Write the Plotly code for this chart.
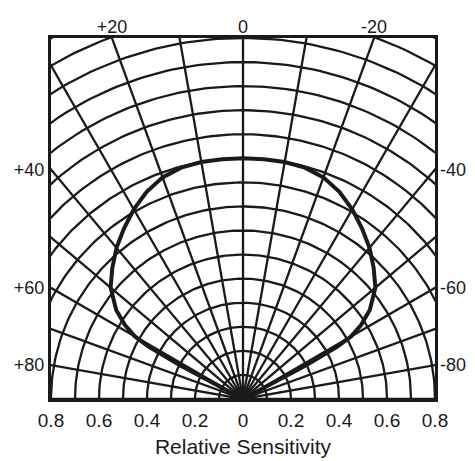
import numpy as np
import plotly.graph_objects as go

# ---- data ----
# angular displacement (deg) and relative sensitivity, symmetric pattern
sens_angles = [0, 5, 10, 15, 20, 25, 30, 35, 40, 45, 50, 55, 58, 60, 61, 62, 63]
sens_values = [1.0, 1.0, 1.0, 0.995, 0.98, 0.95, 0.91, 0.865, 0.82, 0.77, 0.72,
               0.645, 0.58, 0.52, 0.45, 0.30, 0.0]

grid_radii = [round(0.1 * k, 1) for k in range(1, 18)]
grid_angles = list(range(-90, 91, 10))
hub_radius = 0.05

x_tick_vals = [-0.8, -0.6, -0.4, -0.2, 0, 0.2, 0.4, 0.6, 0.8]
x_tick_text = ["0.8", "0.6", "0.4", "0.2", "0", "0.2", "0.4", "0.6", "0.8"]
top_angles = [20, 0, -20]
top_text = ["+20", "0", "-20"]
left_angles = [40, 60, 80]
left_text = ["+40", "+60", "+80"]
right_text = ["-40", "-60", "-80"]

X_RANGE = [-0.8, 0.8]
Y_RANGE = [0, 1.5]

# ---- build figure ----
INK = "#1a1a1a"
FONT = "Liberation Sans, Arial, sans-serif"

# full curve: positive angles on the left
ang_full = [-a for a in sens_angles[::-1]] + sens_angles[1:]
val_full = sens_values[::-1] + sens_values[1:]
th = np.radians(ang_full)
cx = -np.array(val_full) * np.sin(th)
cy = np.array(val_full) * np.cos(th)

# circles
circ_x, circ_y = [], []
t = np.radians(np.linspace(0, 180, 181))
for r in grid_radii:
    circ_x += list(r * np.cos(t)) + [None]
    circ_y += list(r * np.sin(t)) + [None]

# radial lines
rad_x, rad_y = [], []
for a in grid_angles:
    ar = np.radians(a)
    rad_x += [0, -2.0 * np.sin(ar), None]
    rad_y += [0, 2.0 * np.cos(ar), None]

fig = go.Figure()
fig.add_trace(go.Scatter(x=circ_x, y=circ_y, mode="lines",
                         line=dict(color=INK, width=2.3), hoverinfo="skip", showlegend=False))
fig.add_trace(go.Scatter(x=rad_x, y=rad_y, mode="lines",
                         line=dict(color=INK, width=2.3), hoverinfo="skip", showlegend=False))
fig.add_trace(go.Scatter(x=hub_radius * np.cos(t), y=hub_radius * np.sin(t), mode="lines",
                         fill="toself", fillcolor=INK, line=dict(color=INK, width=1),
                         hoverinfo="skip", showlegend=False))
fig.add_trace(go.Scatter(x=cx, y=cy, mode="lines",
                         line=dict(color=INK, width=4), showlegend=False))
# invisible trace so the top/right angle axes are drawn
fig.add_trace(go.Scatter(x=[0], y=[0], xaxis="x2", yaxis="y2", mode="markers",
                         marker=dict(opacity=0), hoverinfo="skip", showlegend=False))

top_vals = [-Y_RANGE[1] * np.tan(np.radians(a)) for a in top_angles]
left_vals = [X_RANGE[1] / np.tan(np.radians(a)) for a in left_angles]

common = dict(showgrid=False, zeroline=False, ticks="", fixedrange=True, automargin=False)
fig.update_layout(
    width=475, height=461,
    margin=dict(l=51, r=40, t=38, b=62),
    paper_bgcolor="white", plot_bgcolor="white",
    font=dict(family=FONT, color=INK, size=18),
    xaxis=dict(range=X_RANGE, tickvals=x_tick_vals, ticktext=x_tick_text,
               showline=True, mirror=True, linewidth=3, linecolor=INK,
               tickfont=dict(size=19), ticklabelstandoff=2,
               title=dict(text="Relative Sensitivity", font=dict(size=21), standoff=10),
               **common),
    yaxis=dict(range=Y_RANGE, tickvals=left_vals, ticktext=left_text,
               showline=True, mirror=True, linewidth=3, linecolor=INK,
               tickfont=dict(size=18), ticklabelstandoff=0, **common),
    xaxis2=dict(range=X_RANGE, overlaying="x", side="top", anchor="y",
                tickvals=top_vals, ticktext=top_text, showline=False,
                tickfont=dict(size=18), ticklabelstandoff=0, **common),
    yaxis2=dict(range=Y_RANGE, overlaying="y", side="right", anchor="x",
                tickvals=left_vals, ticktext=right_text, showline=False,
                tickfont=dict(size=18), ticklabelstandoff=4, **common),
)

fig.write_html("out.html", config={"displayModeBar": False},
               post_script="document.body.style.margin='0';")
